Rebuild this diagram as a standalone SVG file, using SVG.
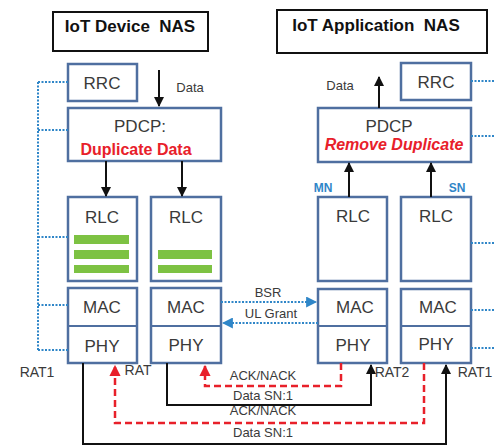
<svg xmlns="http://www.w3.org/2000/svg" width="494" height="446" viewBox="0 0 494 446">
<defs>
<style>
.nas{fill:#fff;stroke:#111;stroke-width:2}
.box{fill:#fff;stroke:#4f6fa0;stroke-width:2.5}
.t{font-family:"Liberation Sans",Arial,sans-serif;fill:#3a3a3a;text-anchor:middle}
.big{font-size:17px}
.title{font-size:17px;font-weight:bold;fill:#111}
.lbl{font-size:13px;fill:#3a3a3a}
.red{fill:#e8202a;font-weight:bold;font-size:16px}
.blue{fill:#2f86c8;font-weight:bold;font-size:12px}
.dot{stroke:#2f86c8;stroke-width:2;stroke-dasharray:2 1.5;fill:none}
.blk{stroke:#111;stroke-width:2;fill:none}
.rd{stroke:#e8202a;stroke-width:2.5;stroke-dasharray:7 4;fill:none}
.green{fill:#7dc243}
</style>
<marker id="ab" viewBox="0 0 10 10" refX="9" refY="5" markerWidth="5" markerHeight="5" orient="auto-start-reverse"><path d="M0,0 L10,5 L0,10 z" fill="#111"/></marker>
<marker id="ar" viewBox="0 0 10 10" refX="9" refY="5" markerWidth="4.5" markerHeight="4.5" orient="auto"><path d="M0,0 L10,5 L0,10 z" fill="#e8202a"/></marker>
<marker id="au" viewBox="0 0 10 10" refX="9" refY="5" markerWidth="5.5" markerHeight="5.5" orient="auto"><path d="M0,0 L10,5 L0,10 z" fill="#2f86c8"/></marker>
</defs>
<rect width="494" height="446" fill="#fff"/>

<g id="dev-nas"><rect class="nas" x="53" y="12" width="155" height="39"/><text class="t title" x="130" y="32" xml:space="preserve">IoT Device  NAS</text></g>
<g id="app-nas"><rect class="nas" x="277" y="10" width="210" height="43"/><text class="t title" x="376" y="31" xml:space="preserve">IoT Application  NAS</text></g>

<g id="dev-rrc"><rect class="box" x="68" y="64" width="69" height="37"/><text class="t big" x="102" y="89">RRC</text></g>
<g id="dev-pdcp"><rect class="box" x="68" y="108" width="153" height="53"/><text class="t big" x="140" y="132">PDCP:</text><text class="t red" x="136" y="155">Duplicate Data</text></g>
<g id="dev-rlc1"><rect class="box" x="68" y="197" width="69" height="84"/><text class="t big" x="102" y="223">RLC</text>
<rect class="green" x="74" y="235" width="55" height="9"/><rect class="green" x="74" y="250" width="55" height="9"/><rect class="green" x="74" y="265" width="55" height="8"/></g>
<g id="dev-rlc2"><rect class="box" x="151" y="197" width="70" height="84"/><text class="t big" x="186" y="223">RLC</text>
<rect class="green" x="158" y="250" width="54" height="9"/><rect class="green" x="158" y="265" width="54" height="8"/></g>
<g id="dev-macphy1"><rect class="box" x="68" y="288" width="69" height="75"/><line x1="68" y1="326" x2="137" y2="326" stroke="#4f6fa0" stroke-width="2"/><text class="t big" x="102" y="313">MAC</text><text class="t big" x="102" y="352">PHY</text></g>
<g id="dev-macphy2"><rect class="box" x="151" y="288" width="70" height="75"/><line x1="151" y1="326" x2="221" y2="326" stroke="#4f6fa0" stroke-width="2"/><text class="t big" x="186" y="313">MAC</text><text class="t big" x="186" y="351">PHY</text></g>

<g id="app-rrc"><rect class="box" x="401" y="63" width="70" height="37"/><text class="t big" x="436" y="88">RRC</text></g>
<g id="app-pdcp"><rect class="box" x="318" y="108" width="153" height="54"/><text class="t big" x="389" y="132">PDCP</text><text class="t red" x="394" y="150" font-style="italic">Remove Duplicate</text></g>
<g id="app-rlc-mn"><rect class="box" x="318" y="197" width="69" height="84"/><text class="t big" x="353" y="222">RLC</text></g>
<g id="app-rlc-sn"><rect class="box" x="401" y="197" width="70" height="84"/><text class="t big" x="436" y="222">RLC</text></g>
<g id="app-macphy-mn"><rect class="box" x="318" y="289" width="69" height="74"/><line x1="318" y1="326" x2="387" y2="326" stroke="#4f6fa0" stroke-width="2"/><text class="t big" x="355" y="313">MAC</text><text class="t big" x="353" y="351">PHY</text></g>
<g id="app-macphy-sn"><rect class="box" x="401" y="289" width="70" height="74"/><line x1="401" y1="326" x2="471" y2="326" stroke="#4f6fa0" stroke-width="2"/><text class="t big" x="438" y="313">MAC</text><text class="t big" x="436" y="350">PHY</text></g>

<g id="labels">
<text class="t lbl" x="190" y="92">Data</text>
<text class="t lbl" x="340" y="90">Data</text>
<text class="t blue" x="323" y="192">MN</text>
<text class="t blue" x="457" y="192">SN</text>
<text class="t" x="37" y="377" font-size="14">RAT1</text>
<text class="t" x="138" y="375" font-size="14">RAT</text>
<text class="t" x="392" y="377" font-size="14">RAT2</text>
<text class="t" x="475" y="377" font-size="14">RAT1</text>
<text class="t lbl" x="268" y="297">BSR</text>
<text class="t lbl" x="271" y="318">UL Grant</text>
<text class="t lbl" x="263" y="380">ACK/NACK</text>
<text class="t lbl" x="263" y="400">Data SN:1</text>
<text class="t lbl" x="263" y="415">ACK/NACK</text>
<text class="t lbl" x="263" y="437">Data SN:1</text>
</g>

<g id="connectors">
<path class="dot" d="M38,82 V350 M38,82 H68 M38,130 H68 M38,237 H68 M38,305 H68 M38,350 H68"/>
<path class="dot" d="M471,81 H494 M471,136 H494 M471,243 H494 M471,310 H494 M471,348 H494"/>
<line class="dot" x1="221" y1="302" x2="316" y2="302" marker-end="url(#au)"/>
<line class="dot" x1="318" y1="323" x2="223" y2="323" marker-end="url(#au)"/>
<line class="blk" x1="159" y1="70" x2="159" y2="106" marker-end="url(#ab)"/>
<line class="blk" x1="106" y1="161" x2="106" y2="196" marker-end="url(#ab)"/>
<line class="blk" x1="182" y1="161" x2="182" y2="196" marker-end="url(#ab)"/>
<line class="blk" x1="379" y1="108" x2="379" y2="77" marker-end="url(#ab)"/>
<line class="blk" x1="349" y1="197" x2="349" y2="163" marker-end="url(#ab)"/>
<line class="blk" x1="431" y1="197" x2="431" y2="163" marker-end="url(#ab)"/>
<path class="blk" d="M167,363 V405 H371 V365" marker-end="url(#ab)"/>
<path class="blk" d="M83,363 V444 H446 V365" marker-end="url(#ab)"/>
<path class="rd" d="M341,363 V386 H205 V366" marker-end="url(#ar)"/>
<path class="rd" d="M424,363 V423 H115 V366" marker-end="url(#ar)"/>
</g>
</svg>
